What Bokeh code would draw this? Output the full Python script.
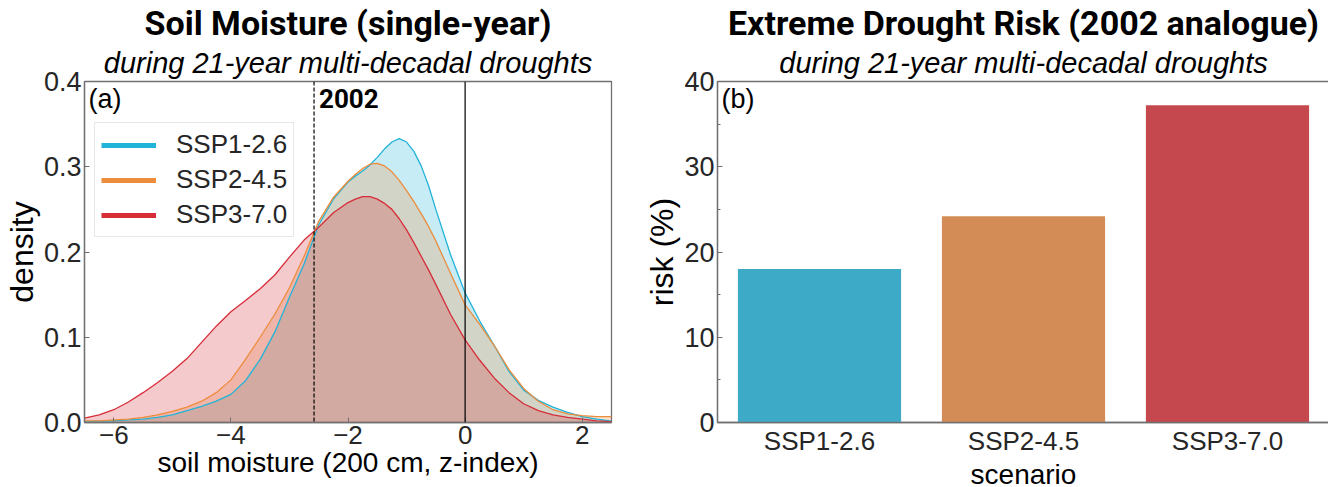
from bokeh.plotting import figure
from bokeh.layouts import row
from bokeh.models import (Span, Label, Title, Legend, LegendItem, FixedTicker,
                          Range1d, NumeralTickFormatter, ColumnDataSource)
from bokeh.embed import file_html
from bokeh.resources import INLINE

# ---------------- data ----------------
scenarios = ["SSP1-2.6", "SSP2-4.5", "SSP3-7.0"]
line_colors = ["#22b3d8", "#ec8c3c", "#d62d38"]
bar_colors = ["#3dabc7", "#d38c55", "#c4484e"]

sm_x = [-6.5, -6.25, -6.0, -5.75, -5.5, -5.25, -5.0, -4.75, -4.5, -4.25, -4.0,
        -3.75, -3.5, -3.25, -3.0, -2.75, -2.5, -2.25, -2.0, -1.875, -1.75,
        -1.625, -1.5, -1.375, -1.25, -1.125, -1.0, -0.875, -0.75, -0.625, -0.5,
        -0.25, 0.0, 0.25, 0.5, 0.75, 1.0, 1.25, 1.5, 1.75, 2.0, 2.25, 2.5]
dens_ssp126 = [0.001, 0.0015, 0.002, 0.003, 0.004, 0.006, 0.009, 0.014, 0.019,
               0.025, 0.033, 0.049, 0.074, 0.106, 0.147, 0.186, 0.232, 0.262,
               0.282, 0.289, 0.295, 0.302, 0.311, 0.321, 0.329, 0.333, 0.329,
               0.318, 0.301, 0.278, 0.25, 0.197, 0.152, 0.119, 0.09, 0.06,
               0.038, 0.026, 0.018, 0.012, 0.007, 0.004, 0.0015]
dens_ssp245 = [0.002, 0.002, 0.003, 0.004, 0.006, 0.009, 0.013, 0.018, 0.025,
               0.035, 0.05, 0.074, 0.1, 0.127, 0.158, 0.195, 0.236, 0.264,
               0.283, 0.291, 0.298, 0.303, 0.304, 0.301, 0.294, 0.284, 0.272,
               0.259, 0.245, 0.23, 0.213, 0.175, 0.138, 0.115, 0.09, 0.062,
               0.04, 0.025, 0.015, 0.01, 0.008, 0.007, 0.007]
dens_ssp370 = [0.005, 0.009, 0.015, 0.024, 0.035, 0.047, 0.06, 0.075, 0.094,
               0.113, 0.13, 0.143, 0.157, 0.173, 0.194, 0.214, 0.229, 0.246,
               0.258, 0.262, 0.265, 0.265, 0.262, 0.257, 0.25, 0.239, 0.226,
               0.211, 0.195, 0.179, 0.162, 0.127, 0.097, 0.073, 0.052, 0.035,
               0.022, 0.014, 0.009, 0.006, 0.004, 0.002, 0.001]
densities = [dens_ssp126, dens_ssp245, dens_ssp370]

drought_2002 = -2.58
reference_zero = 0.0

risk_pct = [18.0, 24.2, 37.2]

x_ticks_a = [-6, -4, -2, 0, 2]
y_ticks_a = [0.0, 0.1, 0.2, 0.3, 0.4]
y_ticks_b = [0, 10, 20, 30, 40]
y_minor_b = [5, 15, 25, 35]

FONT = "Liberation Sans"
TFONT = "Roboto"
TXT = "#262626"
FRAME = "#707070"


def style(p):
    p.grid.visible = False
    p.outline_line_color = FRAME
    p.outline_line_width = 1.3
    for ax in p.axis:
        ax.axis_line_color = FRAME
        ax.axis_line_width = 1.3
        ax.major_label_text_font = FONT
        ax.major_label_text_font_size = "27px"
        ax.major_label_text_color = TXT
        ax.axis_label_text_font = FONT
        ax.axis_label_text_font_size = "28px"
        ax.axis_label_text_font_style = "normal"
        ax.axis_label_text_color = "black"
        ax.major_tick_in = 5
        ax.major_tick_out = 0
        ax.minor_tick_in = 3
        ax.minor_tick_out = 0
        ax.major_tick_line_color = FRAME
        ax.minor_tick_line_color = FRAME
        ax.major_label_standoff = 3
        ax.axis_label_standoff = 3
    for ax in p.xaxis:
        ax.major_label_text_font_size = "26px"
        ax.major_label_standoff = 3
        ax.axis_label_standoff = 0
    for ax in p.yaxis:
        ax.axis_label_text_font_size = "32px"
        ax.axis_label_standoff = 1


def add_titles(p, main, sub):
    p.add_layout(Title(text=sub, text_font=FONT, text_font_size="29px",
                       text_font_style="italic", align="center",
                       text_color="black", standoff=5), "above")
    p.add_layout(Title(text=main, text_font=TFONT, text_font_size="34px",
                       text_font_style="bold", align="center",
                       text_color="black", standoff=0), "above")


# ---------------- panel (a) ----------------
p1 = figure(frame_width=527, frame_height=341,
            x_range=Range1d(-6.5, 2.5), y_range=Range1d(0, 0.4),
            output_backend="svg", toolbar_location=None,
            min_border_left=75, min_border_right=30,
            min_border_top=0, min_border_bottom=0,
            x_axis_label="soil moisture (200 cm, z-index)",
            y_axis_label="density")
style(p1)
add_titles(p1, "Soil Moisture (single-year)",
           "during 21-year multi-decadal droughts")

p1.xaxis.ticker = FixedTicker(ticks=x_ticks_a, minor_ticks=[])
p1.xaxis.major_label_overrides = {-6: "\u22126", -4: "\u22124", -2: "\u22122"}
p1.yaxis.ticker = FixedTicker(ticks=y_ticks_a, minor_ticks=[])
p1.yaxis.formatter = NumeralTickFormatter(format="0.0")

for dens, col in zip(densities, line_colors):
    src = ColumnDataSource(dict(x=sm_x, y=dens))
    p1.varea(x="x", y1=0, y2="y", source=src, fill_color=col, fill_alpha=0.25)
for dens, col in zip(densities, line_colors):
    src = ColumnDataSource(dict(x=sm_x, y=dens))
    p1.line(x="x", y="y", source=src, line_color=col, line_width=1.3)

p1.add_layout(Span(location=drought_2002, dimension="height", line_color="black",
                   line_width=1.2, line_dash="4 2"))
p1.add_layout(Span(location=reference_zero, dimension="height",
                   line_color="black", line_width=1.2))

p1.add_layout(Label(x=drought_2002, y=0.4, x_offset=5, y_offset=-7,
                    text="2002", text_baseline="top", text_font=TFONT,
                    text_font_size="26px", text_font_style="bold",
                    text_color="black"))
p1.add_layout(Label(x=-6.5, y=0.4, x_offset=4, y_offset=-2, text="(a)",
                    text_baseline="top", text_font=FONT, text_font_size="27px",
                    text_color="black"))

# legend proxies (thick lines)
items = []
for name, col in zip(scenarios, line_colors):
    r = p1.line(x=[float("nan")], y=[float("nan")], line_color=col, line_width=5)
    items.append(LegendItem(label=name, renderers=[r]))
leg = Legend(items=items, location=(10, 185), glyph_width=55, glyph_height=28,
             label_standoff=20, label_text_font=FONT, label_text_font_size="26px",
             label_text_color=TXT, label_height=28, spacing=4, padding=6,
             margin=0, border_line_color="#d0d0d0", border_line_width=1,
             background_fill_alpha=0.85)
p1.add_layout(leg, "center")

# ---------------- panel (b) ----------------
p2 = figure(frame_width=612, frame_height=341,
            x_range=scenarios, y_range=Range1d(0, 40),
            output_backend="svg", toolbar_location=None,
            min_border_left=73, min_border_right=1,
            min_border_top=0, min_border_bottom=0,
            x_axis_label="scenario", y_axis_label="risk (%)")
style(p2)
add_titles(p2, "Extreme Drought Risk (2002 analogue)",
           "during 21-year multi-decadal droughts")
p2.x_range.range_padding = 0
p2.yaxis.ticker = FixedTicker(ticks=y_ticks_b, minor_ticks=y_minor_b)
p2.xaxis.major_tick_line_color = None

bsrc = ColumnDataSource(dict(s=scenarios, v=risk_pct, c=bar_colors))
p2.vbar(x="s", top="v", width=0.8, source=bsrc, fill_color="c",
        line_color=None)
p2.add_layout(Label(x=0, y=40, x_offset=4, y_offset=-2, text="(b)",
                    text_baseline="top", text_font=FONT, text_font_size="27px",
                    text_color="black"))

layout = row(p1, p2, spacing=0)
open("out.html", "w").write(file_html(layout, INLINE))
